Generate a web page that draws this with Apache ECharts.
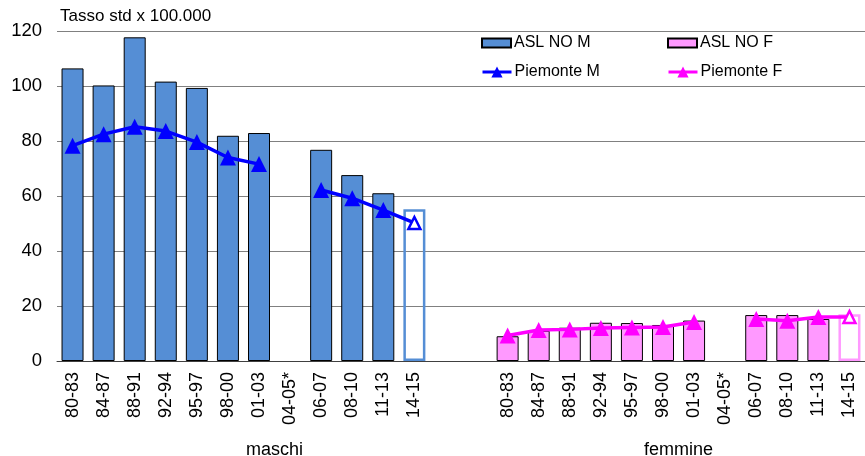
<!DOCTYPE html>
<html>
<head>
<meta charset="utf-8">
<script src="https://cdn.jsdelivr.net/npm/echarts@6/dist/echarts.min.js"></script>
<style>
  html, body { margin: 0; padding: 0; background: #fff; }
  #chart { width: 865px; height: 456px; }
</style>
</head>
<body>
<div id="chart"></div>
<script>
// Periods of observation (same for both sexes)
const periods = ['80-83','84-87','88-91','92-94','95-97','98-00','01-03','04-05*','06-07','08-10','11-13','14-15'];
// Blank slots separating the two groups
const spacer = ['', ''];
const groupNames = ['maschi', 'femmine'];

// Standardised rates x 100.000
const aslNoM    = [106.4, 100.2, 117.7, 101.6, 99.3, 81.9, 82.9, null, 76.8, 67.6, 61.0, 55.2];
const piemonteM = [78.3, 82.5, 85.2, 83.6, 79.6, 74.0, 71.6, null, 62.2, 59.2, 54.9, 50.2];
const aslNoF    = [9.0, 11.0, 12.1, 13.9, 13.8, 13.1, 14.7, null, 16.7, 16.7, 15.3, 17.0];
const piemonteF = [9.3, 11.3, 11.5, 12.0, 12.2, 12.4, 14.2, null, 15.3, 14.6, 16.0, 16.0];

const yTicks = { min: 0, max: 120, interval: 20 };

const BLUE_BAR = '#558ED5';
const PINK_BAR = '#FF99FF';
const BLUE_LINE = '#0000FF';
const PINK_LINE = '#FF00FF';
const FONT = 'Liberation Sans, Arial, sans-serif';

const categories = periods.concat(spacer, periods);
const nM = periods.length, nGap = spacer.length;
const blanks = n => new Array(n).fill(null);

// The last period is provisional: drawn as an empty outline
function barData(values, color) {
  return values.map((v, i) => i === values.length - 1 && v != null
    ? { value: v, itemStyle: { color: 'rgba(0,0,0,0)', borderColor: color, borderWidth: 2.5 } }
    : v);
}
function lineData(values, color) {
  return values.map((v, i) => i === values.length - 1 && v != null
    ? { value: v, itemStyle: { color: '#fff', borderColor: color, borderWidth: 2.5 }, symbolSize: 12 }
    : v);
}

const seriesM_bar  = barData(aslNoM, BLUE_BAR).concat(blanks(nGap + nM));
const seriesF_bar  = blanks(nM + nGap).concat(barData(aslNoF, PINK_BAR));
const seriesM_line = lineData(piemonteM, BLUE_LINE).concat(blanks(nGap + nM));
const seriesF_line = blanks(nM + nGap).concat(lineData(piemonteF, PINK_LINE));

const chart = echarts.init(document.getElementById('chart'), null, { renderer: 'canvas' });

const legendText = { fontFamily: FONT, fontSize: 16, color: '#000', padding: [0, 0, 0, -2] };
function legendAt(name, left, top, isBar) {
  const item = { name: name };
  if (isBar) item.icon = 'rect';
  return {
    data: [item],
    left: left, top: top, padding: 0,
    itemWidth: 29, itemHeight: isBar ? 9 : 14, itemGap: 0,
    lineStyle: { width: 3 },
    textStyle: legendText, selectedMode: false
  };
}

chart.setOption({
  animation: false,
  backgroundColor: '#fff',
  title: {
    text: 'Tasso std x 100.000', left: 60, top: 8, padding: 0,
    textStyle: { fontFamily: FONT, fontSize: 17, fontWeight: 'normal', color: '#000' }
  },
  legend: [
    legendAt('ASL NO M', 481, 35, true),
    legendAt('ASL NO F', 667, 35, true),
    legendAt('Piemonte M', 481, 64, false),
    legendAt('Piemonte F', 667, 64, false)
  ],
  grid: { left: 57, top: 31, width: 819, height: 330, containLabel: false },
  xAxis: {
    type: 'category',
    data: categories,
    boundaryGap: true,
    axisLine: { lineStyle: { color: '#404040', width: 1 } },
    axisTick: { show: false },
    axisLabel: {
      rotate: 90, interval: 0, margin: 11,
      fontFamily: FONT, fontSize: 18, color: '#000'
    }
  },
  yAxis: {
    type: 'value',
    min: yTicks.min, max: yTicks.max, interval: yTicks.interval,
    axisLine: { show: false },
    axisTick: { show: false },
    axisLabel: { margin: 15, fontFamily: FONT, fontSize: 18.5, color: '#000' },
    splitLine: { lineStyle: { color: '#808080', width: 1 } }
  },
  series: [
    {
      name: 'ASL NO M', type: 'bar', data: seriesM_bar,
      barWidth: 22, barGap: '-100%',
      itemStyle: { color: BLUE_BAR, borderColor: '#000', borderWidth: 1 },
      z: 2
    },
    {
      name: 'ASL NO F', type: 'bar', data: seriesF_bar,
      barWidth: 22, barGap: '-100%',
      itemStyle: { color: PINK_BAR, borderColor: '#000', borderWidth: 1 },
      z: 2
    },
    {
      name: 'Piemonte M', type: 'line', data: seriesM_line,
      connectNulls: false, symbol: 'triangle', symbolSize: 16,
      lineStyle: { color: BLUE_LINE, width: 3.5 },
      itemStyle: { color: BLUE_LINE },
      z: 5
    },
    {
      name: 'Piemonte F', type: 'line', data: seriesF_line,
      connectNulls: false, symbol: 'triangle', symbolSize: 16,
      lineStyle: { color: PINK_LINE, width: 3.5 },
      itemStyle: { color: PINK_LINE },
      z: 5
    }
  ]
});

// Group captions centred under each group of periods
function groupCenter(first, last) {
  const a = chart.convertToPixel({ xAxisIndex: 0 }, first);
  const b = chart.convertToPixel({ xAxisIndex: 0 }, last);
  return (a + b) / 2;
}
chart.setOption({
  graphic: [
    { type: 'text', x: groupCenter(0, nM + nGap - 1), y: 441,
      style: { text: groupNames[0], textAlign: 'center', fontFamily: FONT, fontSize: 18, fill: '#000' } },
    { type: 'text', x: groupCenter(nM + nGap, categories.length - 1), y: 441,
      style: { text: groupNames[1], textAlign: 'center', fontFamily: FONT, fontSize: 18, fill: '#000' } }
  ]
});
</script>
</body>
</html>
